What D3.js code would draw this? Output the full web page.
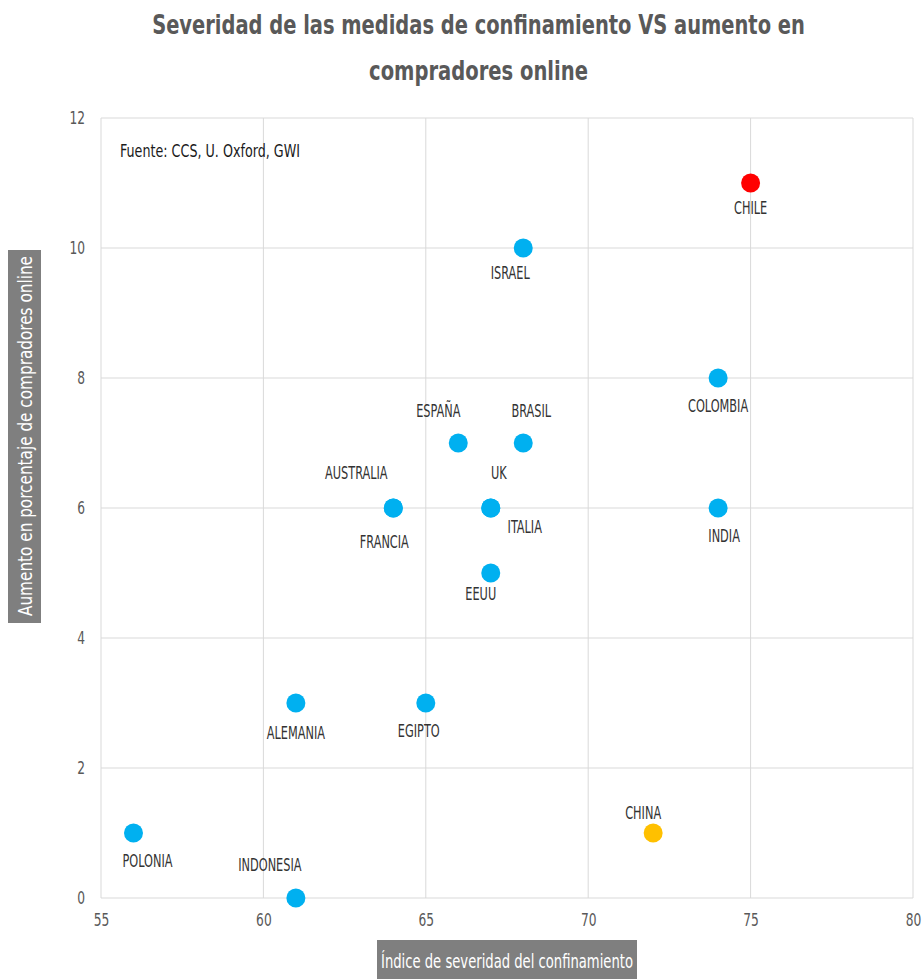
<!DOCTYPE html>
<html>
<head>
<meta charset="utf-8">
<script src="https://cdn.jsdelivr.net/npm/d3@7"></script>
<style>
  html, body { margin: 0; padding: 0; background: #fff; }
  svg { display: block; }
  .narrow { font-family: "Liberation Sans Narrow", "DejaVu Sans Condensed", "DejaVu Sans", sans-serif; font-stretch: condensed; }
</style>
</head>
<body>
<svg id="chart" width="924" height="979"></svg>
<script>
// Countries, lockdown severity index (x) and rise in online shoppers in % (y)
const countries = ["CHILE", "ISRAEL", "COLOMBIA", "ESPAÑA", "BRASIL", "AUSTRALIA", "FRANCIA", "UK", "ITALIA", "INDIA", "EEUU", "ALEMANIA", "EGIPTO", "POLONIA", "CHINA", "INDONESIA"];
const severity  = [75, 68, 74, 66, 68, 64, 64, 67, 67, 74, 67, 61, 65, 56, 72, 61];
const increase  = [11, 10, 8, 7, 7, 6, 6, 6, 6, 6, 5, 3, 3, 1, 1, 0];
const xTicks = [55, 60, 65, 70, 75, 80];
const yTicks = [0, 2, 4, 6, 8, 10, 12];

const titleLines = ["Severidad de las medidas de confinamiento VS aumento en", "compradores online"];
const sourceText = "Fuente: CCS, U. Oxford, GWI";
const xTitle = "Índice de severidad del confinamiento";
const yTitle = "Aumento en porcentaje de compradores online";

// Highlight colours per country; everything else is blue
const highlight = { "CHILE": "#FF0000", "CHINA": "#FFC000" };
const baseColor = "#00B0F0";

// Label nudges (dx, dy) relative to each marker centre
const labelNudge = {
  "CHILE": [0, 25], "ISRAEL": [-13, 25], "COLOMBIA": [0, 28], "ESPAÑA": [-20, -32],
  "BRASIL": [8, -32], "AUSTRALIA": [-37, -35], "FRANCIA": [-9, 34], "UK": [8, -35],
  "ITALIA": [34, 19], "INDIA": [6, 28], "EEUU": [-10, 21], "ALEMANIA": [0, 30],
  "EGIPTO": [-7, 28], "POLONIA": [14, 28], "CHINA": [-10, -20], "INDONESIA": [-26, -33]
};

// Squeeze a text selection horizontally to mimic a tall condensed face
function squeeze(sel, k) {
  sel.each(function () {
    const w = this.getComputedTextLength();
    d3.select(this).attr("textLength", w * k).attr("lengthAdjust", "spacingAndGlyphs");
  });
}

const svg = d3.select("#chart");

const x = d3.scaleLinear().domain([55, 80]).range([101, 913]);
const y = d3.scaleLinear().domain([0, 12]).range([898, 118]);

const grid = "#D9D9D9";
const textGray = "#595959";

// Title: each line is scaled horizontally to its target width
const titleWidths = [653, 219];
svg.append("g").selectAll("text").data(titleLines).join("text")
  .attr("class", "narrow")
  .attr("text-anchor", "middle")
  .attr("font-size", 27)
  .attr("font-weight", "bold")
  .attr("fill", textGray)
  .text(d => d)
  .each(function (d, i) {
    const k = titleWidths[i] / this.getComputedTextLength();
    d3.select(this).attr("transform", `translate(478.5,${34 + i * 46}) scale(${k},1)`);
  });

// Gridlines
const gGrid = svg.append("g");
gGrid.selectAll("line.v").data(xTicks).join("line")
  .attr("class", "v")
  .attr("x1", d => x(d)).attr("x2", d => x(d))
  .attr("y1", y(12)).attr("y2", y(0))
  .attr("stroke", grid).attr("stroke-width", 1);
gGrid.selectAll("line.h").data(yTicks).join("line")
  .attr("class", "h")
  .attr("x1", x(55)).attr("x2", x(80))
  .attr("y1", d => y(d)).attr("y2", d => y(d))
  .attr("stroke", grid).attr("stroke-width", 1);

// Axes (labels only; lines come from the grid)
const xAxis = svg.append("g")
  .attr("transform", `translate(0,${y(0)})`)
  .call(d3.axisBottom(x).tickValues(xTicks).tickSize(0).tickPadding(16));
const yAxis = svg.append("g")
  .attr("transform", `translate(${x(55)},0)`)
  .call(d3.axisLeft(y).tickValues(yTicks).tickSize(0).tickPadding(16));
[xAxis, yAxis].forEach(a => {
  a.select(".domain").remove();
  a.selectAll("text")
    .attr("class", "narrow")
    .attr("font-size", 17)
    .attr("fill", textGray)
    .call(squeeze, 0.8);
});

// Source note
svg.append("text")
  .attr("class", "narrow")
  .attr("x", 120).attr("y", 157)
  .attr("font-size", 18)
  .attr("fill", "#1a1a1a")
  .attr("textLength", 180)
  .attr("lengthAdjust", "spacingAndGlyphs")
  .text(sourceText);

// Axis titles in grey boxes
svg.append("rect").attr("x", 8).attr("y", 250).attr("width", 33).attr("height", 373).attr("fill", "#7F7F7F");
svg.append("text")
  .attr("class", "narrow")
  .attr("transform", `translate(32,436) rotate(-90)`)
  .attr("text-anchor", "middle")
  .attr("font-size", 19)
  .attr("fill", "#fff")
  .attr("textLength", 360)
  .attr("lengthAdjust", "spacingAndGlyphs")
  .text(yTitle);

svg.append("rect").attr("x", 377).attr("y", 940).attr("width", 260).attr("height", 39).attr("fill", "#7F7F7F");
svg.append("text")
  .attr("class", "narrow")
  .attr("x", 507).attr("y", 968)
  .attr("text-anchor", "middle")
  .attr("font-size", 20)
  .attr("fill", "#fff")
  .attr("textLength", 252)
  .attr("lengthAdjust", "spacingAndGlyphs")
  .text(xTitle);

// Markers
const pts = countries.map((c, i) => ({ name: c, sx: severity[i], sy: increase[i] }));
svg.append("g").selectAll("circle").data(pts).join("circle")
  .attr("cx", d => x(d.sx))
  .attr("cy", d => y(d.sy))
  .attr("r", 9.5)
  .attr("fill", d => highlight[d.name] || baseColor);

// Country labels
svg.append("g").selectAll("text").data(pts).join("text")
  .attr("class", "narrow")
  .attr("x", d => x(d.sx) + labelNudge[d.name][0])
  .attr("y", d => y(d.sy) + labelNudge[d.name][1])
  .attr("dy", "0.36em")
  .attr("text-anchor", "middle")
  .attr("font-size", 17)
  .attr("fill", "#333")
  .text(d => d.name)
  .call(squeeze, 0.74);
</script>
</body>
</html>
